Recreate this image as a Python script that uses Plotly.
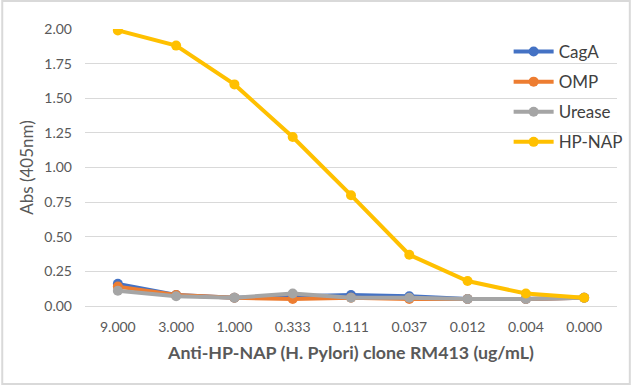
import plotly.graph_objects as go

categories = ["9.000", "3.000", "1.000", "0.333", "0.111", "0.037", "0.012", "0.004", "0.000"]
caga = [0.16, 0.08, 0.06, 0.07, 0.08, 0.07, 0.05, 0.05, 0.06]
omp = [0.14, 0.08, 0.06, 0.05, 0.06, 0.05, 0.05, 0.05, 0.06]
urease = [0.11, 0.07, 0.06, 0.09, 0.06, 0.06, 0.05, 0.05, 0.06]
hpnap = [1.99, 1.88, 1.60, 1.22, 0.80, 0.37, 0.18, 0.09, 0.06]
y_ticks = [0, 0.25, 0.5, 0.75, 1.0, 1.25, 1.5, 1.75, 2.0]

series = [("CagA", caga, "#4472C4"), ("OMP", omp, "#ED7D31"),
          ("Urease", urease, "#A5A5A5"), ("HP-NAP", hpnap, "#FFC000")]

fig = go.Figure()
for name, vals, col in series:
    fig.add_trace(go.Scatter(x=categories, y=vals, name=name, mode="lines+markers",
                             legendgroup=name,
                             line=dict(color=col, width=4),
                             marker=dict(color=col, size=10)))

font = "Lato, 'Open Sans', sans-serif"
L, T, B, R = 85, 29, 80, 15
PW, PH = 640 - L - R, 386 - T - B
fig.update_layout(
    width=640, height=386,
    margin=dict(l=L, r=R, t=T, b=B),
    paper_bgcolor="white", plot_bgcolor="white",
    font=dict(family=font, color="#595959", size=14),
    legend=dict(x=(515 - L) / PW, y=(306 - 34) / PH, xanchor="left", yanchor="top",
                bgcolor="rgba(0,0,0,0)", font=dict(size=17, color="#404040"),
                itemwidth=40, tracegroupgap=5),
    xaxis=dict(type="category", showgrid=False, showline=True, linecolor="#D9D9D9",
               linewidth=1, ticks="", ticklabelstandoff=8,
               tickfont=dict(size=14, color="#595959"),
               title=dict(text="<b>Anti-HP-NAP (H. Pylori) clone RM413 (ug/mL)</b>",
                          font=dict(size=17.8, color="#595959"), standoff=12)),
    yaxis=dict(range=[0, 2.0], tickvals=y_ticks,
               tickformat=".2f", showgrid=True, gridcolor="#D9D9D9", zeroline=False,
               ticks="", ticklabelstandoff=12, tickfont=dict(size=14, color="#595959"),
               title=dict(text="Abs (405nm)", font=dict(size=17, color="#595959"), standoff=6)),
    shapes=[dict(type="rect", xref="paper", yref="paper",
                 x0=(1 - L) / PW, x1=(638 - L) / PW,
                 y0=(306 - 384) / PH, y1=(306 - 1) / PH,
                 line=dict(color="#D9D9D9", width=2), layer="below")],
)
fig.write_html("out.html", config={"displayModeBar": False},
               post_script="document.body.style.margin='0';")
